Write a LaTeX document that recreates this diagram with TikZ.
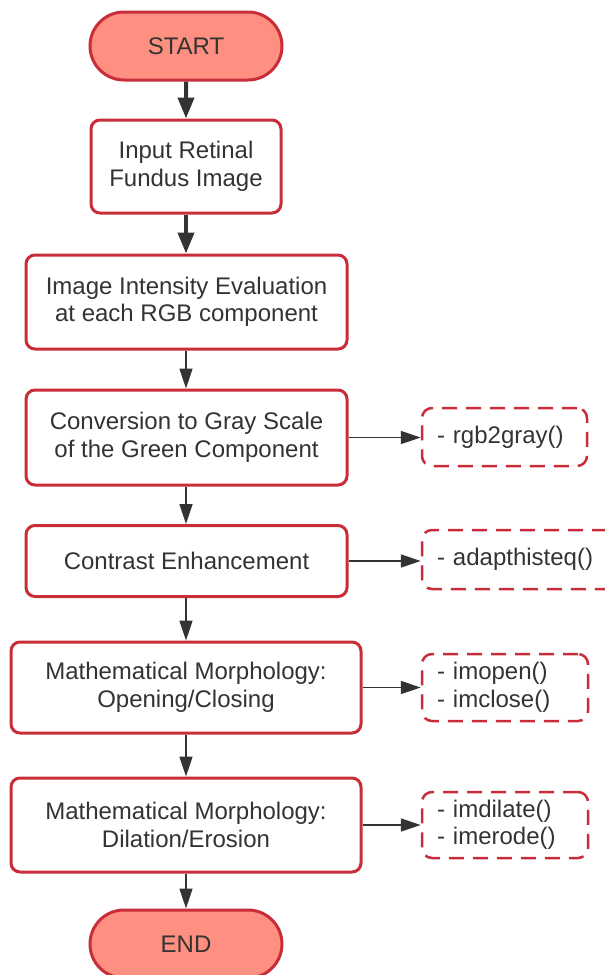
\documentclass[tikz,border=0pt]{standalone}
\usepackage{fontspec}
\setmainfont{Liberation Sans}
\usetikzlibrary{arrows.meta,shapes.misc}
\definecolor{boxred}{HTML}{C92D39}
\definecolor{termfill}{HTML}{FF8F80}
\definecolor{ink}{HTML}{333333}
\begin{document}
\begin{tikzpicture}[x=1pt,y=-1pt,
  every node/.style={font=\fontsize{24}{27.5}\selectfont, text=ink},
  terminal/.style={rounded rectangle, draw=boxred, fill=termfill, line width=3pt,
    minimum width=192pt, minimum height=68pt, inner sep=0pt},
  process/.style={rectangle, rounded corners=9pt, draw=boxred, fill=white,
    line width=3pt, align=center, inner sep=0pt},
  note/.style={rectangle, rounded corners=10pt, draw=boxred, line width=2.5pt,
    dash pattern=on 15pt off 9pt, align=left, inner xsep=15pt, inner ysep=0pt},
  bigflow/.style={draw=ink, line width=4pt, -{Triangle[length=21pt,width=16pt]}},
  flow/.style={draw=ink, line width=1.5pt, -{Triangle[length=20pt,width=13pt]}},
]
\useasboundingbox (0,0) rectangle (605,975);
\clip (0,0) rectangle (605,975);

% main flow
\node[terminal] (start) at (186,46) {START};
\node[process, minimum width=190pt, minimum height=93pt] (input) at (186,166.5)
  {Input Retinal\\Fundus Image};
\node[process, minimum width=321pt, minimum height=94pt] (intens) at (186.5,302)
  {Image Intensity Evaluation\\at each RGB component};
\node[process, minimum width=321pt, minimum height=95pt] (conv) at (186.5,437.5)
  {Conversion to Gray Scale\\of the Green Component};
\node[process, minimum width=321pt, minimum height=71pt] (contrast) at (186.5,561)
  {Contrast Enhancement};
\node[process, minimum width=350pt, minimum height=91pt] (morphA) at (186,687.5)
  {Mathematical Morphology:\\Opening/Closing};
\node[process, minimum width=350pt, minimum height=94pt] (morphB) at (186,825)
  {Mathematical Morphology:\\Dilation/Erosion};
\node[terminal] (end) at (186,944) {END};

% function notes
\node[note, text width=135pt, minimum height=58pt] (fnA) at (504.5,437) {- rgb2gray()};
\node[note, text width=165pt, minimum height=59pt] (fnB) at (519.5,559.5) {- adapthisteq()};
\node[note, text width=136pt, minimum height=67pt] (fnC) at (505,687.5) {- imopen()\\- imclose()};
\node[note, text width=136pt, minimum height=66pt] (fnD) at (505,825) {- imdilate()\\- imerode()};

% connectors
\draw[bigflow] (start) -- (input);
\draw[bigflow] (input) -- (intens.north -| input.south);
\draw[flow] (intens.south -| input.south) -- (conv.north -| input.south);
\draw[flow] (conv.south -| input.south) -- (contrast.north -| input.south);
\draw[flow] (contrast.south -| input.south) -- (morphA.north -| input.south);
\draw[flow] (morphA.south -| input.south) -- (morphB.north -| input.south);
\draw[flow] (morphB.south -| input.south) -- (end.north -| input.south);

\draw[flow] (conv.east) -- (conv.east -| fnA.west);
\draw[flow] (contrast.east) -- (contrast.east -| fnB.west);
\draw[flow] (morphA.east) -- (morphA.east -| fnC.west);
\draw[flow] (morphB.east) -- (morphB.east -| fnD.west);
\end{tikzpicture}
\end{document}
